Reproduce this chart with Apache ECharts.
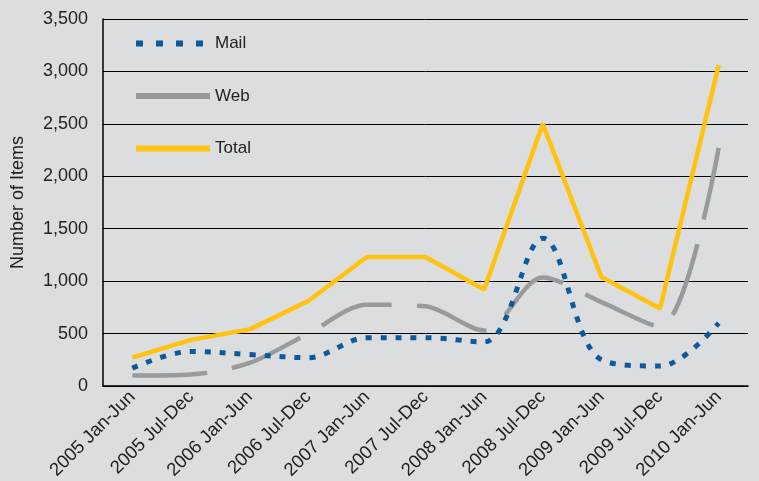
<!DOCTYPE html>
<html><head><meta charset="utf-8">
<script src="https://cdn.jsdelivr.net/npm/echarts@6/dist/echarts.min.js"></script>
<style>html,body{margin:0;padding:0;background:#dcdddf}#c{width:759px;height:481px}</style>
</head><body><div id="c"></div>
<script>
const categories = ['2005 Jan-Jun','2005 Jul-Dec','2006 Jan-Jun','2006 Jul-Dec','2007 Jan-Jun','2007 Jul-Dec','2008 Jan-Jun','2008 Jul-Dec','2009 Jan-Jun','2009 Jul-Dec','2010 Jan-Jun'];
const mail = [170, 330, 300, 270, 460, 460, 420, 1410, 250, 190, 600];
const web = [100, 110, 220, 500, 775, 760, 530, 1035, 800, 565, 2270];
const total = [270, 440, 540, 810, 1230, 1230, 920, 2500, 1040, 740, 3060];

const chart = echarts.init(document.getElementById('c'));
const font = 'Liberation Sans, Arial, sans-serif';
chart.setOption({
  backgroundColor: '#dcdddf',
  animation: false,
  grid: {left: 103, right: 11, top: 19, bottom: 95, containLabel: false, outerBoundsMode: 'none'},
  legend: {
    orient: 'vertical', left: 128, top: 30, itemWidth: 74, itemHeight: 14, itemGap: 35.5,
    textStyle: {fontFamily: font, fontSize: 17, color: '#222'},
    itemStyle: {opacity: 0},
    lineStyle: {width: 6},
    data: [
      {name: 'Mail', lineStyle: {type: [7, 13], width: 6}},
      {name: 'Web', lineStyle: {type: 'solid', width: 6}},
      {name: 'Total', lineStyle: {width: 6}}
    ]
  },
  xAxis: {
    type: 'category', data: categories, boundaryGap: true,
    axisLine: {lineStyle: {color: '#000', width: 1.5}},
    axisTick: {show: false},
    axisLabel: {rotate: 45, fontFamily: font, fontSize: 18.5, color: '#222', interval: 0, margin: 8}
  },
  yAxis: {
    type: 'value', min: 0, max: 3500, interval: 500,
    name: 'Number of Items', nameLocation: 'middle', nameGap: 76,
    nameTextStyle: {fontFamily: font, fontSize: 18, color: '#222'},
    axisLine: {show: true, lineStyle: {color: '#000', width: 1.5}},
    axisTick: {show: false},
    splitLine: {lineStyle: {color: '#000', width: 1}},
    axisLabel: {fontFamily: font, fontSize: 18, color: '#222', margin: 15,
      formatter: v => v.toLocaleString('en-US')}
  },
  series: [
    {name: 'Mail', type: 'line', data: mail, smooth: 0.35, symbol: 'none', z: 3,
     lineStyle: {color: '#0b5a9e', width: 5, type: [6, 9]}, itemStyle: {color: '#0b5a9e'}},
    {name: 'Web', type: 'line', data: web, smooth: 0.3, symbol: 'none', z: 2,
     lineStyle: {color: '#9a9a9b', width: 4.5, type: [75, 25]}, itemStyle: {color: '#9a9a9b'}},
    {name: 'Total', type: 'line', data: total, smooth: false, symbol: 'none', z: 4,
     lineStyle: {color: '#ffc20f', width: 4.5}, itemStyle: {color: '#ffc20f'}}
  ]
});
</script></body></html>
